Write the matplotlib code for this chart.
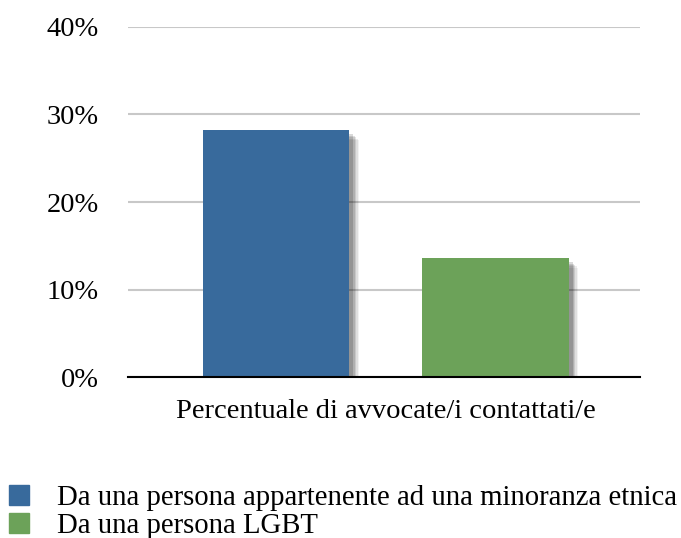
import matplotlib.pyplot as plt
import matplotlib.patches as mpatches
import matplotlib.patheffects as pe
from matplotlib.ticker import PercentFormatter

plt.rcParams['font.family'] = ['Liberation Serif', 'DejaVu Serif']

series = ['Da una persona appartenente ad una minoranza etnica', 'Da una persona LGBT']
values = [28.2, 13.6]
colors = ['#386a9c', '#6ca259']
category = 'Percentuale di avvocate/i contattati/e'
yticks = [0, 10, 20, 30, 40]

fig = plt.figure(figsize=(6.81, 5.38), dpi=100)
ax = fig.add_axes([0.188, 0.299, 0.752, 0.651])

bars = ax.bar([0, 1], values, width=0.667, color=colors, zorder=3)
# soft drop shadow, faked with a few stacked offsets
shadow = [pe.SimplePatchShadow(offset=(o, -o), shadow_rgbFace='black', alpha=a)
          for o, a in [(7, 0.05), (6, 0.08), (5, 0.1), (4, 0.12), (3, 0.15)]]
for b in bars:
    b.set_path_effects(shadow + [pe.Normal()])

ax.set_xlim(-0.675, 1.66)
ax.set_ylim(0, 40)
ax.set_yticks(yticks)
ax.yaxis.set_major_formatter(PercentFormatter(decimals=0))
ax.grid(axis='y', color='#c8c8c8', linewidth=1.5, zorder=0)
ax.tick_params(axis='y', length=0, labelsize=20.5, pad=21)
ax.set_xticks([0.5])
ax.set_xticklabels([category], fontsize=20.5)
ax.tick_params(axis='x', length=0, pad=16)
for s in ['top', 'right', 'left']:
    ax.spines[s].set_visible(False)
ax.spines['bottom'].set_color('black')
ax.spines['bottom'].set_linewidth(1.5)
ax.spines['bottom'].set_zorder(4)

handles = [mpatches.Patch(color=c, label=l) for c, l in zip(colors, series)]
fig.legend(handles=handles, loc='lower left', bbox_to_anchor=(0.0, -0.018), frameon=False,
           fontsize=20.7, handlelength=0.7, handleheight=0.7, handletextpad=1.0,
           labelspacing=0.08, borderaxespad=0.0, borderpad=0.3)

fig.savefig('out.png', dpi=100)
